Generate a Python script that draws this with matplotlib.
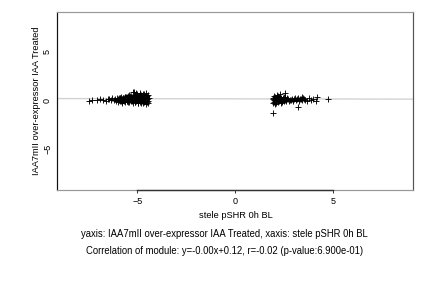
import matplotlib
matplotlib.use("Agg")
import numpy as np
import matplotlib.pyplot as plt

plt.rcParams["font.family"] = ["Liberation Sans", "DejaVu Sans"]

# module 1 (left cluster)
c1_x = [
    -7.45, -7.3, -7.05, -6.9, -6.75, -6.6, -6.5, -6.42, -6.35, -6.28, -6.2, -6.15, -6.08, -6.02,
    -5.98, -5.95, -5.9, -5.88, -5.85, -5.82, -5.8, -5.78, -5.75, -5.72, -5.7, -5.68, -5.65, -5.62, -5.6, -5.58,
    -5.55, -5.52, -5.5, -5.48, -5.45, -5.42, -5.4, -5.38, -5.35, -5.32, -5.3, -5.28, -5.25, -5.22, -5.2, -5.18,
    -5.15, -5.12, -5.1, -5.08, -5.05, -5.02, -5.0, -4.98, -4.95, -4.92, -4.9, -4.88, -4.85, -4.82, -4.8, -4.78,
    -4.75, -4.72, -4.7, -4.68, -4.65, -4.62, -4.6, -4.58, -4.55, -4.52, -4.5, -4.48, -4.45, -4.42,
    -5.97, -5.87, -5.77, -5.67, -5.57, -5.47, -5.37, -5.27, -5.17, -5.07, -4.97, -4.87, -4.77, -4.67, -4.57, -4.47,
    -5.92, -5.83, -5.73, -5.63, -5.53, -5.43, -5.33, -5.23, -5.13, -5.03, -4.93, -4.83, -4.73, -4.63, -4.53, -4.44,
    -5.9, -5.8, -5.6, -5.46, -5.34, -5.21, -5.11, -4.99, -4.89, -4.79, -4.69, -4.59, -4.49,
    -5.2, -5.05, -4.85, -4.7, -4.55, -5.4, -5.15,
]
c1_y = [
    -0.05, 0.0, 0.05, 0.1, 0.05, -0.05, 0.15, 0.1, 0.0, 0.2, 0.05, 0.12, -0.1, 0.18,
    0.1, 0.22, -0.08, 0.15, 0.3, 0.0, 0.12, -0.15, 0.25, 0.05, 0.18, -0.05, 0.35, 0.1, -0.2, 0.2,
    0.08, 0.3, -0.12, 0.15, 0.4, 0.02, -0.25, 0.22, 0.12, 0.45, -0.1, 0.28, 0.05, -0.3, 0.18, 0.35,
    0.1, -0.18, 0.5, 0.25, -0.05, 0.15, 0.6, -0.35, 0.3, 0.08, 0.45, -0.2, 0.2, 0.55, -0.1, 0.35,
    0.02, 0.4, -0.3, 0.25, 0.65, 0.1, -0.15, 0.3, 0.5, -0.25, 0.15, 0.4, -0.1, 0.2,
    -0.2, 0.25, -0.3, 0.05, 0.32, -0.22, 0.42, -0.15, 0.1, 0.38, -0.28, 0.5, -0.05, 0.32, -0.38, 0.48,
    0.02, -0.12, 0.18, 0.28, -0.05, 0.1, 0.05, 0.32, -0.25, 0.2, 0.15, -0.3, 0.42, -0.2, 0.28, -0.35,
    0.2, 0.08, 0.15, 0.0, 0.2, 0.12, 0.25, 0.0, 0.18, 0.08, 0.12, 0.0, 0.1,
    0.85, 0.7, 0.75, 0.6, 0.7, 0.55, 0.8,
]

# module 2 (right cluster)
c2_x = [
    1.92, 1.97, 2.02, 2.07, 2.12, 2.17, 2.22, 2.27, 2.32, 2.37, 2.42, 2.47, 2.52, 2.57, 2.62, 2.7,
    1.95, 2.0, 2.05, 2.1, 2.15, 2.2, 2.25, 2.3, 2.35, 2.4, 2.45, 2.5, 2.55, 2.6, 2.65, 2.75,
    1.93, 1.99, 2.04, 2.11, 2.18, 2.24, 2.33, 2.41, 2.48, 2.56, 2.66, 2.8,
    2.85, 2.9, 2.95, 3.0, 3.05, 3.1, 3.15, 3.2, 3.25, 3.3, 3.35, 3.4, 3.45, 3.5, 3.55, 3.6, 3.7, 3.8, 3.9, 4.0,
    1.95, 2.55, 3.2, 4.2, 4.15, 4.75, 2.3,
]
c2_y = [
    0.1, -0.2, 0.3, 0.0, -0.3, 0.2, 0.45, -0.15, 0.05, 0.25, -0.25, 0.15, 0.0, 0.3, -0.1, 0.1,
    -0.35, 0.4, -0.1, 0.2, 0.5, -0.2, 0.1, 0.3, -0.3, 0.0, 0.2, -0.1, 0.15, 0.05, 0.2, -0.05,
    0.2, 0.05, -0.4, 0.15, -0.05, 0.25, 0.1, -0.1, 0.35, 0.05, 0.1, 0.0,
    0.05, 0.15, -0.05, 0.1, 0.2, 0.0, 0.12, 0.25, -0.1, 0.08, 0.15, 0.3, 0.05, 0.2, 0.1, 0.0, -0.1, 0.2, 0.05, 0.1,
    -1.3, 0.7, -0.75, 0.3, -0.05, 0.1, 0.6,
]

# fitted line from the caption
slope = -0.003
intercept = 0.12

x_ticks = [-5, 0, 5]
y_ticks = [-5, 0, 5]

fig = plt.figure(figsize=(6, 4), dpi=72)
ax = fig.add_axes([0.132, 0.340, 0.824, 0.617])

ax.set_xlim(-9.1, 9.1)
ax.set_ylim(-9.25, 9.0)

# regression line, full width
xs = np.array(ax.get_xlim())
ax.plot(xs, slope * xs + intercept, color="#d0d0d0", linewidth=1.3, zorder=1)

ax.plot(c1_x, c1_y, linestyle="none", marker="+", color="black",
        markersize=5.5, markeredgewidth=0.9, zorder=2)
ax.plot(c2_x, c2_y, linestyle="none", marker="+", color="black",
        markersize=5.5, markeredgewidth=0.9, zorder=2)

# frame like the original: dark left, grey top/bottom
ax.spines["left"].set_color("#111111")
ax.spines["right"].set_color("#555555")
ax.spines["top"].set_color("#999999")
ax.spines["bottom"].set_color("#999999")
for s in ax.spines.values():
    s.set_linewidth(1.2)
# darker axis segment between outer ticks
ax.plot([x_ticks[0], x_ticks[-1]], [-9.25, -9.25], color="#333333",
        linewidth=1.4, clip_on=False, zorder=5)

ax.set_xticks(x_ticks)
ax.set_yticks(y_ticks)
ax.tick_params(axis="x", length=3, width=1, color="#333333", labelsize=9, pad=4)
ax.tick_params(axis="y", length=0, labelsize=9, pad=5)
for lab in ax.get_yticklabels():
    lab.set_rotation(90)
    lab.set_va("center")

ax.set_ylabel("IAA7mII over-expressor IAA Treated", fontsize=9.2, labelpad=2)

fig.text(0.546, 0.25, "stele pSHR 0h BL", ha="center", va="center", fontsize=9.2)
fig.text(0.520, 0.186, "yaxis: IAA7mII over-expressor IAA Treated, xaxis: stele pSHR 0h BL",
         ha="center", va="center", fontsize=9.5)
fig.text(0.520, 0.128, "Correlation of module: y=-0.00x+0.12, r=-0.02 (p-value:6.900e-01)",
         ha="center", va="center", fontsize=9.5)

fig.savefig("out.png", dpi=72)
